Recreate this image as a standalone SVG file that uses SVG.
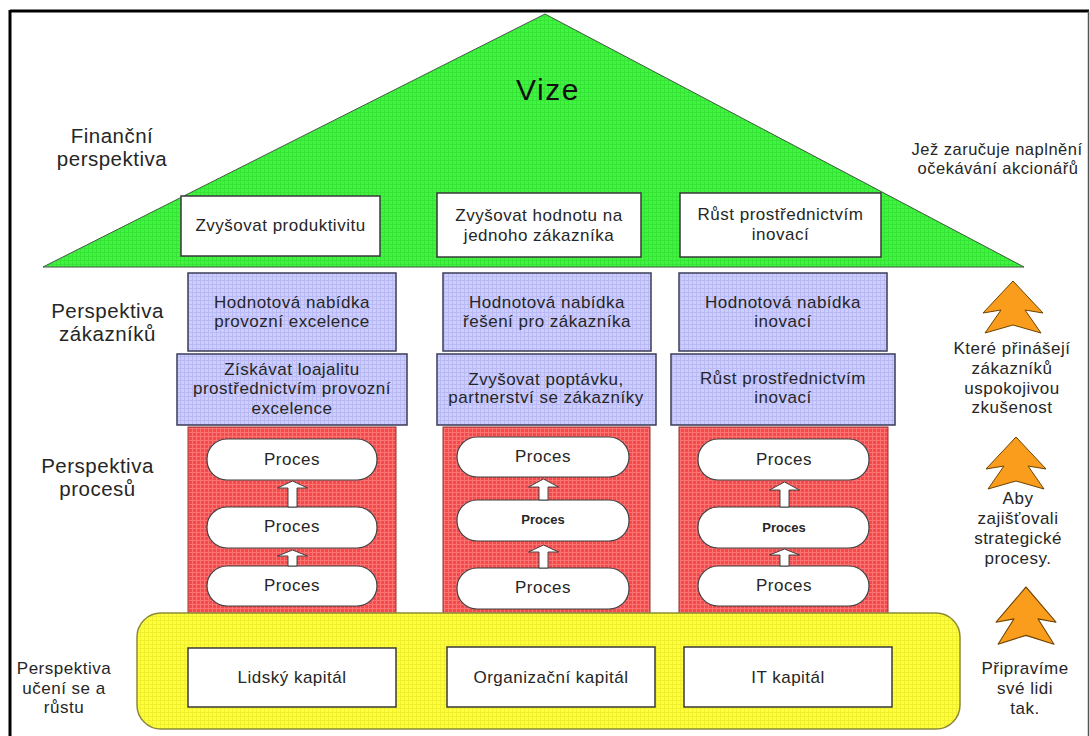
<svg xmlns="http://www.w3.org/2000/svg" width="1090" height="736" viewBox="0 0 1090 736">
  <defs>
    <!-- fine mesh fills used by the layers of the house -->
    <pattern id="meshGreen" width="4" height="4" patternUnits="userSpaceOnUse">
      <rect width="4" height="4" fill="#40f540"/>
      <path d="M0 0.5H4M0.5 0V4" stroke="#2ccc2c" stroke-width="1" opacity="0.45"/>
    </pattern>
    <pattern id="meshBlue" width="4" height="4" patternUnits="userSpaceOnUse">
      <rect width="4" height="4" fill="#cdcdff"/>
      <path d="M0 0.5H4M0.5 0V4" stroke="#acacec" stroke-width="1" opacity="0.6"/>
    </pattern>
    <pattern id="meshRed" width="4" height="4" patternUnits="userSpaceOnUse">
      <rect width="4" height="4" fill="#f44a4a"/>
      <path d="M0 0.5H4M0.5 0V4" stroke="#ff8e8e" stroke-width="1" opacity="0.6"/>
    </pattern>
    <pattern id="meshYellow" width="4" height="4" patternUnits="userSpaceOnUse">
      <rect width="4" height="4" fill="#ffff3c"/>
      <path d="M0 0.5H4M0.5 0V4" stroke="#e6e628" stroke-width="1" opacity="0.6"/>
    </pattern>
    <path id="treeArrow" d="M0 0 L30 32 L12 29 L28 52 L0 44 L-28 52 L-12 29 L-30 32 Z"/>
    <style>
      .t { font-family: "Liberation Sans", Arial, sans-serif; font-size: 17px; fill: #262626; letter-spacing: 0.5px; text-anchor: middle; }
      .lbl { font-size: 20.5px; }
      .sm { font-size: 16.5px; }
      .pb { font-size: 13px; font-weight: bold; letter-spacing: 0; }
      .vize { font-size: 30px; letter-spacing: 1.5px; fill: #111; }
      .white { fill: #ffffff; stroke: #3a3a3a; stroke-width: 1.5; }
      .blue { fill: url(#meshBlue); stroke: #3c3c58; stroke-width: 1.5; }
      .red { fill: url(#meshRed); stroke: #9a3030; stroke-width: 1; }
      .pill { fill: #ffffff; stroke: #404040; stroke-width: 1.2; }
      .flow { fill: #ffffff; stroke: #333333; stroke-width: 0.9; }
      .orange { fill: #fb9d1c; stroke: #6b4200; stroke-width: 1; stroke-linejoin: round; }
    </style>
  </defs>

  <rect width="1090" height="736" fill="#ffffff"/>

  <!-- outer frame -->
  <g id="frame">
    <line x1="10" y1="11" x2="1089" y2="11" stroke="#000" stroke-width="3"/>
    <line x1="10" y1="10" x2="10" y2="740" stroke="#000" stroke-width="3"/>
    <line x1="1088.5" y1="11" x2="1088.5" y2="740" stroke="#555" stroke-width="1.5"/>
  </g>

  <!-- roof: vision and financial perspective -->
  <g id="roof">
    <polygon points="43,267 545,14 1024,267" fill="url(#meshGreen)" stroke="#3d5a3d" stroke-width="1"/>
    <text class="t vize" x="548" y="100">Vize</text>
  </g>
  <g id="fin-productivity">
    <rect class="white" x="181" y="196" width="199" height="60"/>
    <text class="t" x="280.5" y="231">Zvyšovat produktivitu</text>
  </g>
  <g id="fin-value">
    <rect class="white" x="437" y="193" width="204" height="64"/>
    <text class="t" x="539" y="221">Zvyšovat hodnotu na</text>
    <text class="t" x="539" y="241">jednoho zákazníka</text>
  </g>
  <g id="fin-growth">
    <rect class="white" x="680" y="193" width="201" height="64"/>
    <text class="t" x="780.5" y="220">Růst prostřednictvím</text>
    <text class="t" x="780.5" y="240">inovací</text>
  </g>

  <!-- customer perspective -->
  <g id="cust-offer-1">
    <rect class="blue" x="188" y="273" width="208" height="78"/>
    <text class="t" x="292" y="308">Hodnotová nabídka</text>
    <text class="t" x="292" y="327">provozní excelence</text>
  </g>
  <g id="cust-goal-1">
    <rect class="blue" x="177" y="354" width="230" height="71"/>
    <text class="t" x="292" y="375">Získávat loajalitu</text>
    <text class="t" x="292" y="394">prostřednictvím provozní</text>
    <text class="t" x="292" y="414">excelence</text>
  </g>
  <g id="cust-offer-2">
    <rect class="blue" x="443" y="273" width="208" height="78"/>
    <text class="t" x="547" y="308">Hodnotová nabídka</text>
    <text class="t" x="547" y="327">řešení pro zákazníka</text>
  </g>
  <g id="cust-goal-2">
    <rect class="blue" x="437" y="354" width="219" height="71"/>
    <text class="t" x="546" y="385">Zvyšovat poptávku,</text>
    <text class="t" x="546" y="403">partnerství se zákazníky</text>
  </g>
  <g id="cust-offer-3">
    <rect class="blue" x="679" y="273" width="208" height="78"/>
    <text class="t" x="783" y="308">Hodnotová nabídka</text>
    <text class="t" x="783" y="327">inovací</text>
  </g>
  <g id="cust-goal-3">
    <rect class="blue" x="671" y="354" width="224" height="71"/>
    <text class="t" x="783" y="384">Růst prostřednictvím</text>
    <text class="t" x="783" y="403">inovací</text>
  </g>

  <!-- process pillars -->
  <g id="pillar-1">
    <rect class="red" x="188" y="427" width="208" height="192"/>
  </g>
  <g id="pillar-2">
    <rect class="red" x="443" y="427" width="207" height="192"/>
  </g>
  <g id="pillar-3">
    <rect class="red" x="679" y="427" width="209" height="192"/>
  </g>

  <g id="proc-1a"><rect class="pill" x="207" y="439" width="170" height="41" rx="20"/><text class="t" x="292" y="465">Proces</text></g>
  <g id="proc-1b"><rect class="pill" x="207" y="507" width="170" height="41" rx="20"/><text class="t" x="292" y="532">Proces</text></g>
  <g id="proc-1c"><rect class="pill" x="207" y="566" width="170" height="40" rx="20"/><text class="t" x="292" y="591">Proces</text></g>

  <g id="proc-2a"><rect class="pill" x="457" y="437" width="172" height="40" rx="20"/><text class="t" x="543" y="462">Proces</text></g>
  <g id="proc-2b"><rect class="pill" x="457" y="500" width="172" height="41" rx="20"/><text class="t pb" x="543" y="524">Proces</text></g>
  <g id="proc-2c"><rect class="pill" x="457" y="568" width="172" height="41" rx="20"/><text class="t" x="543" y="593">Proces</text></g>

  <g id="proc-3a"><rect class="pill" x="698" y="439" width="171" height="41" rx="20"/><text class="t" x="784" y="465">Proces</text></g>
  <g id="proc-3b"><rect class="pill" x="698" y="507" width="171" height="41" rx="20"/><text class="t pb" x="784" y="532">Proces</text></g>
  <g id="proc-3c"><rect class="pill" x="698" y="566" width="171" height="40" rx="20"/><text class="t" x="784" y="591">Proces</text></g>

  <!-- upward flow between processes -->
  <g id="connectors">
    <path class="flow" d="M292.5 481 L307.5 488 L297 488 L297 507 L288 507 L288 488 L277.5 488 Z"/>
    <path class="flow" d="M292.5 550 L307.5 556 L297 556 L297 566 L288 566 L288 556 L277.5 556 Z"/>
    <path class="flow" d="M543.5 479 L558.5 487 L548 487 L548 500 L539 500 L539 487 L528.5 487 Z"/>
    <path class="flow" d="M543.5 545 L558.5 552 L548 552 L548 568 L539 568 L539 552 L528.5 552 Z"/>
    <path class="flow" d="M784.5 482 L799.5 490 L789 490 L789 507 L780 507 L780 490 L769.5 490 Z"/>
    <path class="flow" d="M784.5 549 L799.5 555 L789 555 L789 566 L780 566 L780 555 L769.5 555 Z"/>
  </g>

  <!-- foundation: learning and growth -->
  <g id="foundation">
    <rect x="137" y="613" width="823" height="116" rx="24" fill="url(#meshYellow)" stroke="#8c8a3a" stroke-width="1.5"/>
  </g>
  <g id="cap-human">
    <rect class="white" x="188" y="648" width="208" height="59"/>
    <text class="t" x="292" y="683">Lidský kapitál</text>
  </g>
  <g id="cap-org">
    <rect class="white" x="447" y="647" width="208" height="60"/>
    <text class="t" x="551" y="683">Organizační kapitál</text>
  </g>
  <g id="cap-it">
    <rect class="white" x="684" y="647" width="208" height="60"/>
    <text class="t" x="788" y="683">IT kapitál</text>
  </g>

  <!-- perspective labels on the left -->
  <g id="label-financial">
    <text class="t lbl" x="112" y="143">Finanční</text>
    <text class="t lbl" x="112" y="166">perspektiva</text>
  </g>
  <g id="label-customer">
    <text class="t lbl" x="107.5" y="318">Perspektiva</text>
    <text class="t lbl" x="107.5" y="341">zákazníků</text>
  </g>
  <g id="label-process">
    <text class="t lbl" x="97.5" y="473">Perspektiva</text>
    <text class="t lbl" x="97.5" y="496">procesů</text>
  </g>
  <g id="label-learning">
    <text class="t" x="64" y="674">Perspektiva</text>
    <text class="t" x="64" y="694">učení se a</text>
    <text class="t" x="64" y="713">růstu</text>
  </g>

  <!-- reasoning chain on the right -->
  <g id="note-shareholders">
    <text class="t sm" x="997" y="155">Jež zaručuje naplnění</text>
    <text class="t sm" x="998" y="174">očekávání akcionářů</text>
  </g>
  <g id="step-customers">
    <use href="#treeArrow" class="orange" transform="translate(1013 281)"/>
    <text class="t" x="1012" y="354">Které přinášejí</text>
    <text class="t" x="1012" y="374">zákazníků</text>
    <text class="t" x="1012" y="394">uspokojivou</text>
    <text class="t" x="1012" y="413">zkušenost</text>
  </g>
  <g id="step-processes">
    <use href="#treeArrow" class="orange" transform="translate(1016 437)"/>
    <text class="t" x="1018" y="504">Aby</text>
    <text class="t" x="1018" y="524">zajišťovali</text>
    <text class="t" x="1018" y="544">strategické</text>
    <text class="t" x="1018" y="564">procesy.</text>
  </g>
  <g id="step-people">
    <use href="#treeArrow" class="orange" transform="translate(1026 587) scale(1 1.1)"/>
    <text class="t" x="1025" y="674">Připravíme</text>
    <text class="t" x="1025" y="694">své lidi</text>
    <text class="t" x="1025" y="714">tak.</text>
  </g>
</svg>
